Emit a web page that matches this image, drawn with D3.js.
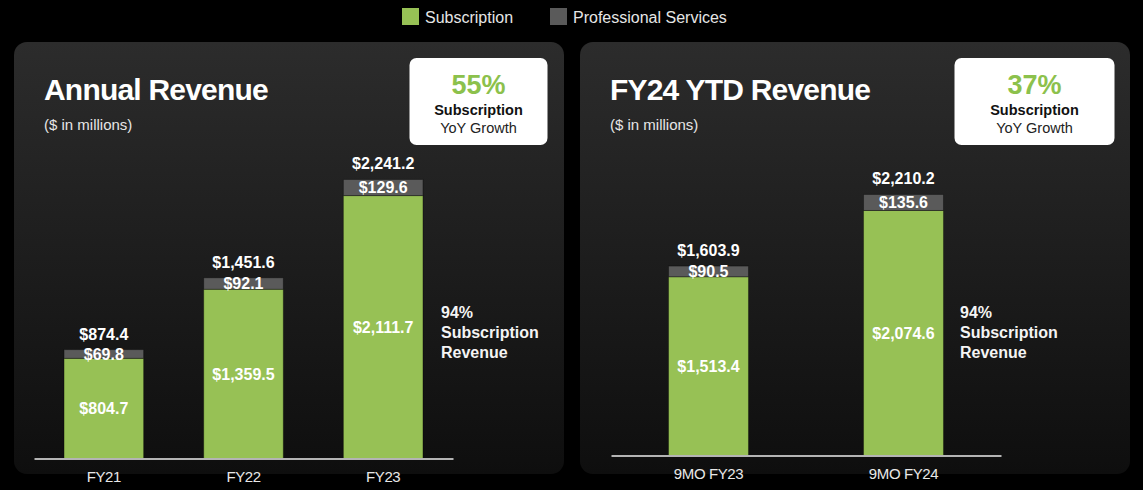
<!DOCTYPE html>
<meta charset="utf-8">
<style>
  body { margin: 0; background: #000; }
  text { font-family: "Liberation Sans", Arial, sans-serif; }
  .tick text { fill: #e8e8e8; font-size: 15px; letter-spacing: -0.4px; }
</style>
<body>
<script src="https://d3js.org/d3.v7.min.js"></script>
<script>
// data
var annualCats = ["FY21", "FY22", "FY23"];
var annualSub = [804.7, 1359.5, 2111.7];
var annualPS = [69.8, 92.1, 129.6];
var annualTotal = [874.4, 1451.6, 2241.2];

var ytdCats = ["9MO FY23", "9MO FY24"];
var ytdSub = [1513.4, 2074.6];
var ytdPS = [90.5, 135.6];
var ytdTotal = [1603.9, 2210.2];

var seriesNames = ["Subscription", "Professional Services"];
var colors = ["#97c155", "#5a5a5a"];

var width = 1143,
    height = 490;

var svg = d3.select("body").append("svg")
    .attr("width", width)
    .attr("height", height)
    .style("display", "block");

svg.append("rect").attr("width", width).attr("height", height).attr("fill", "#000");

var grad = svg.append("defs").append("linearGradient")
    .attr("id", "panelGrad")
    .attr("x1", 0).attr("y1", 0).attr("x2", 0).attr("y2", 1);
grad.append("stop").attr("offset", "0%").attr("stop-color", "#2c2c2c");
grad.append("stop").attr("offset", "100%").attr("stop-color", "#0e0e0e");

// legend
var legend = svg.selectAll(".legend")
    .data(seriesNames)
  .enter().append("g")
    .attr("class", "legend")
    .attr("transform", function(d, i) { return "translate(" + [402, 550][i] + ",8)"; });
legend.append("rect").attr("width", 17).attr("height", 17)
    .attr("fill", function(d, i) { return colors[i]; });
legend.append("text")
    .attr("x", 23).attr("y", 15)
    .attr("fill", "#e6e6e6")
    .style("font-size", "16px")
    .text(function(d) { return d; });

var fmt = function(v) { return "$" + d3.format(",.1f")(v); };

function drawPanel(cfg) {
  var g = svg.append("g");

  g.append("rect")
      .attr("x", cfg.x).attr("y", 42)
      .attr("width", cfg.w).attr("height", 432)
      .attr("rx", 13)
      .attr("fill", "url(#panelGrad)");

  g.append("text")
      .attr("x", cfg.x + 30).attr("y", 100)
      .attr("fill", "#fff")
      .style("font-size", "30px").style("font-weight", "bold")
      .style("letter-spacing", "-0.8px")
      .text(cfg.title);

  g.append("text")
      .attr("x", cfg.x + 30).attr("y", 130)
      .attr("fill", "#e6e6e6")
      .style("font-size", "15px")
      .text("($ in millions)");

  // growth box
  var bx = cfg.boxX, bw = cfg.boxW, cx = bx + bw / 2;
  g.append("rect")
      .attr("x", bx).attr("y", 58)
      .attr("width", bw).attr("height", 87)
      .attr("rx", 7)
      .attr("fill", "#fff");
  g.append("text")
      .attr("x", cx).attr("y", 94)
      .attr("text-anchor", "middle")
      .attr("fill", "#8cc14c")
      .style("font-size", "27px").style("font-weight", "bold")
      .text(cfg.growth);
  g.append("text")
      .attr("x", cx).attr("y", 115)
      .attr("text-anchor", "middle")
      .attr("fill", "#111")
      .style("font-size", "14.5px").style("font-weight", "bold")
      .text("Subscription");
  g.append("text")
      .attr("x", cx).attr("y", 133)
      .attr("text-anchor", "middle")
      .attr("fill", "#222")
      .style("font-size", "14.5px")
      .text("YoY Growth");

  var x = d3.scaleBand()
      .domain(cfg.cats)
      .range(cfg.xRange)
      .paddingInner(cfg.pad)
      .paddingOuter(cfg.pad / 2);

  var y = d3.scaleLinear()
      .domain([0, 2400])
      .range([cfg.base, cfg.base - 2400 * cfg.k]);

  var rows = cfg.cats.map(function(c, i) {
    return { cat: c, sub: cfg.sub[i], ps: cfg.ps[i], total: cfg.total[i] };
  });

  var stack = d3.stack().keys(["sub", "ps"])(rows);

  g.selectAll(".layer")
      .data(stack)
    .enter().append("g")
      .attr("fill", function(d, i) { return colors[i]; })
    .selectAll("rect")
      .data(function(d) { return d; })
    .enter().append("rect")
      .attr("x", function(d) { return x(d.data.cat); })
      .attr("y", function(d) { return y(d[1]); })
      .attr("width", x.bandwidth())
      .attr("height", function(d) { return y(d[0]) - y(d[1]); })
      .attr("stroke", "rgba(0,0,0,0.35)")
      .attr("stroke-width", 1);

  // segment labels
  stack.forEach(function(layer) {
    g.selectAll(null)
        .data(layer)
      .enter().append("text")
        .attr("x", function(d) { return x(d.data.cat) + x.bandwidth() / 2; })
        .attr("y", function(d) { return (y(d[0]) + y(d[1])) / 2; })
        .attr("dy", "0.36em")
        .attr("text-anchor", "middle")
        .attr("fill", "#fff")
        .style("font-size", "16px").style("font-weight", "bold")
        .text(function(d) { return fmt(d[1] - d[0]); });
  });

  // totals
  g.selectAll(".total")
      .data(rows)
    .enter().append("text")
      .attr("x", function(d) { return x(d.cat) + x.bandwidth() / 2; })
      .attr("y", function(d) { return y(d.total) - 10; })
      .attr("text-anchor", "middle")
      .attr("fill", "#fff")
      .style("font-size", "16px").style("font-weight", "bold")
      .text(function(d) { return fmt(d.total); });

  var axis = g.append("g")
      .attr("transform", "translate(0," + cfg.base + ")")
      .call(d3.axisBottom(x).tickSize(0).tickSizeOuter(0).tickPadding(13));
  axis.select(".domain").attr("stroke", "#b4b4b4").attr("stroke-width", 2);
  axis.selectAll(".tick text").attr("font-family", null).attr("font-size", null);

  // side note
  g.append("text")
      .attr("x", cfg.noteX).attr("y", 318)
      .attr("fill", "#f4f4f4")
      .style("font-size", "16px").style("font-weight", "bold")
    .selectAll("tspan")
      .data(["94%", "Subscription", "Revenue"])
    .enter().append("tspan")
      .attr("x", cfg.noteX)
      .attr("dy", function(d, i) { return i ? 20 : 0; })
      .text(function(d) { return d; });
}

drawPanel({
  x: 14, w: 550, title: "Annual Revenue", growth: "55%",
  boxX: 409.5, boxW: 138,
  cats: annualCats, sub: annualSub, ps: annualPS, total: annualTotal,
  xRange: [34, 453], pad: 0.43, base: 458.5, k: 0.1245, noteX: 441
});

drawPanel({
  x: 580, w: 550, title: "FY24 YTD Revenue", growth: "37%",
  boxX: 954.5, boxW: 160,
  cats: ytdCats, sub: ytdSub, ps: ytdPS, total: ytdTotal,
  xRange: [611, 1001], pad: 0.59, base: 455.5, k: 0.1181, noteX: 960
});
</script>
